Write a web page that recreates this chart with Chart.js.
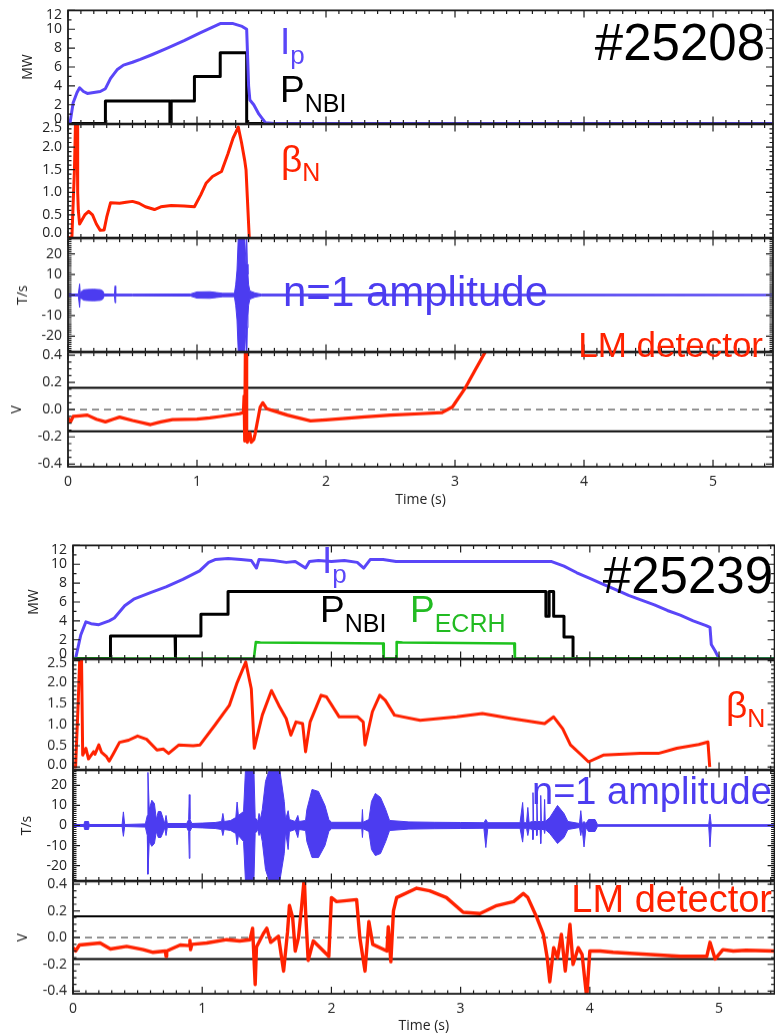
<!DOCTYPE html>
<html><head><meta charset="utf-8">
<script src="https://cdn.jsdelivr.net/npm/chart.js@4.4.1/dist/chart.umd.min.js"></script>
<style>
html,body{margin:0;padding:0;background:#fff;overflow:hidden;width:775px;height:1034px;position:relative;}
.lbl{position:absolute;font-family:"Liberation Sans",Arial,sans-serif;line-height:1;white-space:nowrap;}
.sub{position:relative;}
</style></head><body>
<script>
// ===================== DATA =====================
const xTickLabels = [0,1,2,3,4,5];
const mwLabels = [0,2,4,6,8,10,12];
const betaLabels = [0.0,0.5,1.0,1.5,2.0,2.5];
const tsLabels = [-20,-10,0,10,20];
const vLabels = [-0.4,-0.2,0.0,0.2,0.4];
const lmLimits = [0.16,-0.16];
const lmZero = 0;

// ---- shot #25208 ----
const tA_ip = [0,0.015,0.04,0.07,0.09,0.12,0.15,0.2,0.25,0.29,0.33,0.38,0.43,0.5,0.56,0.65,0.77,0.9,1.02,1.1,1.18,1.28,1.35,1.385,1.4,1.41,1.44,1.48,1.53,1.6,5.46];
const ipA  = [0,0,2.2,3.3,3.8,3.4,3.2,3.3,3.4,3.7,4.8,5.7,6.2,6.5,6.8,7.3,8.0,8.8,9.6,10.1,10.6,10.6,10.3,10.0,4,2.5,2.0,1.0,0.1,0,0];
const tA_nbi = [0,0.29,0.29,0.79,0.79,0.80,0.80,0.98,0.98,1.18,1.18,1.385,1.385,5.46];
const nbiA   = [0,0,2.4,2.4,0,0,2.4,2.4,5.0,5.0,7.5,7.5,0,0];
const tA_beta = [0,0.03,0.05,0.06,0.07,0.075,0.08,0.09,0.1,0.13,0.16,0.19,0.22,0.25,0.28,0.3,0.33,0.4,0.45,0.5,0.55,0.6,0.67,0.72,0.8,0.9,0.98,1.03,1.07,1.12,1.19,1.24,1.28,1.32,1.345,1.37,1.38,1.39,1.405];
const betaA   = [0,0,1.5,2.8,2.8,1.0,0.6,0.3,0.35,0.5,0.58,0.5,0.3,0.16,0.17,0.45,0.77,0.76,0.78,0.8,0.76,0.68,0.62,0.68,0.71,0.7,0.68,0.95,1.2,1.35,1.46,1.85,2.2,2.44,2.1,1.7,1.5,0.9,0];
const tA_n1 = [0,0.08,0.09,0.095,0.1,0.12,0.15,0.2,0.25,0.27,0.28,0.36,0.365,0.37,0.5,0.95,1.0,1.1,1.15,1.2,1.29,1.3,1.31,1.32,1.33,1.36,1.37,1.38,1.385,1.39,1.395,1.40,1.41,1.45,1.5,5.46];
const n1A_hi = [0.4,0.5,5.4,1,1.5,2.5,2.7,2.8,2.6,2,0.5,0.4,4.4,0.4,0.4,0.5,1.5,1.6,1.2,0.8,0.8,5,12,28,28,28,28,15,28,15,10,5,2,1,0.4,0.3];
const n1A_lo = [-0.4,-0.5,-6,-1,-1.5,-2.5,-2.7,-2.8,-2.6,-2,-0.5,-0.4,-3.8,-0.4,-0.4,-0.5,-1.5,-1.6,-1.2,-0.8,-0.8,-5,-12,-28,-28,-28,-28,-15,-28,-16,-10,-5,-2,-1,-0.4,-0.3];
const tA_lm = [0,0.02,0.04,0.09,0.15,0.22,0.29,0.35,0.4,0.5,0.64,0.72,0.81,1.0,1.1,1.18,1.33,1.36,1.365,1.37,1.375,1.38,1.385,1.39,1.41,1.42,1.44,1.45,1.46,1.49,1.51,1.54,1.58,1.7,1.88,2.0,2.3,2.5,2.73,2.9,2.98,3.08,3.15,3.25];
const lmA   = [-0.06,-0.09,-0.05,-0.045,-0.04,-0.07,-0.09,-0.07,-0.055,-0.08,-0.11,-0.09,-0.073,-0.07,-0.06,-0.05,-0.03,-0.02,0.1,-0.23,0.45,0.45,-0.2,-0.24,-0.17,-0.24,-0.22,-0.18,-0.13,0.02,0.05,0.007,-0.005,-0.04,-0.083,-0.075,-0.053,-0.04,-0.03,-0.022,0.02,0.16,0.28,0.45];

// ---- shot #25239 ----
const tB_ip = [0,0.02,0.06,0.1,0.14,0.2,0.28,0.32,0.4,0.47,0.6,0.72,0.85,0.98,1.05,1.1,1.2,1.3,1.38,1.42,1.44,1.55,1.65,1.72,1.8,1.83,1.9,2.0,2.1,2.2,2.25,2.3,2.4,2.5,2.7,3.0,3.3,3.5,3.7,3.8,3.9,4.0,4.1,4.2,4.3,4.4,4.5,4.6,4.7,4.8,4.9,4.93,4.94,4.97,5.0,5.43];
const ipB   = [0,0,2.5,3.9,3.7,3.6,4.0,4.3,5.6,6.3,7.0,7.6,8.4,9.3,10.2,10.5,10.6,10.5,10.4,9.6,10.5,10.4,10.2,10.3,9.6,10.3,10.4,10.3,10.4,10.2,9.6,10.5,10.5,10.3,10.3,10.3,10.3,10.3,10.3,9.8,9.1,8.5,7.9,7.3,6.7,6.2,5.7,5.1,4.6,4.0,3.5,3.3,1.5,0.8,0,0];
const tB_nbi = [0,0.29,0.29,0.79,0.79,0.795,0.795,0.99,0.99,1.2,1.2,3.66,3.66,3.685,3.685,3.72,3.72,3.8,3.8,3.87,3.87,5.43];
const nbiB   = [0,0,2.4,2.4,0,0,2.4,2.4,4.7,4.7,7.1,7.1,4.5,4.5,7.1,7.1,4.5,4.5,2.3,2.3,0,0];
const tB_ec = [0,1.40,1.415,1.45,2.0,2.40,2.405,2.50,2.505,2.55,3.0,3.415,3.42,5.43];
const ecB   = [0,0,1.75,1.7,1.65,1.6,0,0,1.75,1.7,1.65,1.6,0,0];
const tB_beta = [0,0.02,0.04,0.055,0.065,0.075,0.1,0.12,0.16,0.17,0.2,0.22,0.26,0.28,0.31,0.36,0.43,0.5,0.57,0.65,0.7,0.74,0.82,0.93,0.983,1.097,1.21,1.267,1.337,1.38,1.403,1.465,1.536,1.593,1.65,1.686,1.726,1.777,1.8,1.835,1.92,1.962,2.06,2.204,2.246,2.26,2.317,2.374,2.417,2.488,2.687,2.97,3.168,3.395,3.65,3.72,3.79,3.85,3.935,3.99,4.104,4.39,4.53,4.673,4.843,4.914,4.928];
const betaB   = [0,0,1.5,2.8,2.8,0.28,0.44,0.19,0.36,0.3,0.52,0.35,0.24,0.14,0.3,0.58,0.63,0.73,0.65,0.4,0.42,0.32,0.52,0.5,0.52,0.98,1.45,1.96,2.47,1.84,0.44,1.22,1.8,1.45,1.14,0.75,1.06,1.02,0.36,1.06,1.69,1.65,1.18,1.18,1.06,0.52,1.3,1.69,1.57,1.22,1.1,1.18,1.26,1.14,1.02,1.18,0.9,0.52,0.28,0.12,0.28,0.32,0.32,0.44,0.53,0.59,0];
const tB_n1 = [
  0,0.085,0.09,0.12,0.125,0.38,0.39,0.40,0.56,0.575,
  0.58,0.59,0.61,0.63,0.645,0.66,0.68,0.70,0.71,0.72,
  0.73,0.88,0.895,0.90,0.905,0.92,1.0,1.1,1.15,1.16,
  1.17,1.22,1.26,1.27,1.28,1.32,1.335,1.40,1.41,1.43,
  1.44,1.45,1.465,1.49,1.52,1.60,1.635,1.645,1.665,1.675,
  1.72,1.74,1.75,1.80,1.81,1.85,1.90,1.95,1.98,2.0,
  2.235,2.24,2.245,2.29,2.31,2.34,2.38,2.42,2.45,2.6,
  2.8,3.0,3.18,3.195,3.21,3.46,3.48,3.49,3.51,3.52,
  3.53,3.555,3.56,3.565,3.585,3.59,3.595,3.615,3.62,3.625,
  3.645,3.65,3.655,3.69,3.75,3.80,3.83,3.92,3.93,3.94,
  3.955,3.97,3.99,4.04,4.06,4.92,4.93,4.94,5.43];
const n1B_hi = [
  0.5,0.5,2,2,0.5,0.5,6.8,0.5,0.8,5,
  26.5,8,12.6,11,3,7,7,3,1,5,
  1,1,3,15.4,3,1,1.2,1.5,2,6,
  2,2.5,4,11.7,5,7,28,28,4,2,
  6,3,8,22,28,28,12,3,7.4,3,
  2,5,2,2.5,8,18,17,10,3,1.6,
  1.6,8,1.6,3,12,16,14,8,2.5,1.8,
  1.6,1.5,1.4,3,1.4,1.4,11.5,1.4,1.4,9,
  1.5,2,16.4,2,2,14,2,2,15,2,
  2,13,2,4,10,6,2,1,7.4,1,
  2,1,3,3,0.4,0.4,5.7,0.4,0.4];
const n1B_lo = [
  -0.5,-0.5,-2,-2,-0.5,-0.5,-5.4,-0.5,-0.8,-5,
  -24.3,-8,-10.4,-9,-3,-6,-6,-3,-1,-5,
  -1,-1,-3,-16.4,-3,-1,-1.2,-1.5,-2,-5,
  -2,-2.5,-4,-9.6,-5,-8,-28,-28,-4,-2,
  -5,-3,-8,-22,-28,-28,-14,-3,-12,-3,
  -2,-6,-2,-2.5,-8,-16,-16,-10,-3,-1.6,
  -1.6,-6,-1.6,-3,-12,-15,-14,-8,-2.5,-1.8,
  -1.6,-1.5,-1.4,-11,-1.4,-1.4,-8.3,-1.4,-1.4,-5,
  -1.5,-2,-7,-2,-2,-5,-2,-2,-9,-2,
  -2,-4,-2,-4,-9,-6,-2,-1,-5,-1,
  -10.7,-1,-3,-3,-0.4,-0.4,-10.7,-0.4,-0.4];
const tB_lm = [
  0,0.02,0.05,0.21,0.29,0.415,0.544,0.62,0.715,0.72,
  0.725,0.83,0.9,0.905,0.91,0.92,1.035,1.19,1.29,1.37,
  1.39,1.41,1.42,1.473,1.5,1.53,1.59,1.63,1.66,1.675,
  1.7,1.72,1.745,1.77,1.79,1.8,1.82,1.86,1.98,2.0,
  2.04,2.195,2.22,2.26,2.29,2.32,2.43,2.44,2.46,2.48,
  2.505,2.66,2.76,2.89,3.02,3.15,3.28,3.41,3.485,3.52,
  3.59,3.64,3.67,3.69,3.72,3.75,3.78,3.81,3.846,3.87,
  3.91,3.94,3.976,4.0,4.08,4.18,4.44,4.70,4.905,4.93,
  4.97,5.03,5.11,5.21,5.43];
const lmB = [
  -0.075,-0.1,-0.055,-0.04,-0.085,-0.065,-0.09,-0.11,-0.1,-0.14,
  -0.1,-0.055,-0.06,-0.02,-0.09,-0.05,-0.04,-0.015,-0.025,-0.015,
  0.07,-0.35,-0.07,0.03,0.07,-0.035,0.01,-0.25,0.04,0.24,
  0.15,-0.1,0,0.24,0.45,0.2,-0.17,-0.025,-0.14,0.3,
  0.27,0.285,0,-0.25,0.12,-0.05,-0.1,0.08,-0.18,0.2,
  0.3,0.37,0.35,0.3,0.19,0.18,0.24,0.27,0.33,0.3,
  0.15,0.025,-0.15,-0.33,-0.075,-0.15,0.025,-0.25,0.1,-0.2,
  -0.075,-0.125,-0.45,-0.1,-0.1,-0.11,-0.125,-0.14,-0.14,-0.035,
  -0.16,-0.09,-0.1,-0.095,-0.1];

// ===================== STYLE / RENDER =====================
const BLUE = '#5a46f8', BLUE2 = '#4c3cf0', RED = '#ff2200', GREEN = '#1ec21e', BLACK = '#000';
const TICKFONT = {family:'Open Sans', size:14};

function pts(T, V){ return T.map((t,i)=>({x:t, y:V[i]})); }
function hline(v, xmax){ return [{x:0,y:v},{x:xmax,y:v}]; }
function ds(data, color, width, extra){
  return Object.assign({data, borderColor:color, backgroundColor:color, borderWidth:width, pointRadius:0, fill:false, tension:0, borderJoinStyle:'round'}, extra||{});
}

const framePlugin = {
  id:'frame',
  afterDatasetsDraw(chart, args, opts){
    const {ctx, chartArea:a} = chart; const xs = chart.scales.x, ys = chart.scales.y;
    ctx.save();
    ctx.strokeStyle = '#1c1c1c';
    ctx.lineWidth = 1.8;
    ctx.strokeRect(a.left, a.top, a.right-a.left, a.bottom-a.top);
    ctx.lineWidth = 1.2;
    ctx.beginPath();
    const nx = Math.floor((xs.max)/0.1 + 1e-6);
    for (let i=0;i<=nx;i++){
      const p = xs.getPixelForValue(i*0.1); const L = (i%10===0)?7:3.5;
      ctx.moveTo(p,a.bottom); ctx.lineTo(p,a.bottom-L);
      ctx.moveTo(p,a.top); ctx.lineTo(p,a.top+L);
    }
    const s = Math.ceil(ys.min/opts.minor - 1e-6), e = Math.floor(ys.max/opts.minor + 1e-6);
    for (let k=s;k<=e;k++){
      const v = k*opts.minor; const r = v/opts.major;
      const major = Math.abs(r-Math.round(r))<1e-6;
      const p = ys.getPixelForValue(v); const L = major?7:3.5;
      ctx.moveTo(a.left,p); ctx.lineTo(a.left+L,p);
      ctx.moveTo(a.right,p); ctx.lineTo(a.right-L,p);
    }
    ctx.stroke();
    ctx.restore();
  }
};

function panel(o){
  const padTop = 14, padBot = 14;
  const axisH = o.xAxis ? o.xAxis.height : 0;
  const top = o.top - padTop;
  const h = o.bottom - o.top + padTop + (o.xAxis ? axisH : padBot);
  const wrap = document.createElement('div');
  wrap.style.cssText = 'position:absolute;left:0;top:'+top+'px;width:775px;height:'+h+'px;';
  const cv = document.createElement('canvas');
  cv.width = 775; cv.height = h; cv.style.width = '775px'; cv.style.height = h+'px';
  wrap.appendChild(cv); document.body.appendChild(wrap);
  const ppu = (o.bottom - o.top)/(o.ymax - o.ymin);
  new Chart(cv.getContext('2d'), {
    type:'line',
    data:{datasets:o.datasets},
    plugins:[framePlugin],
    options:{
      responsive:false, animation:false, events:[],
      layout:{padding:{top:padTop, bottom:o.xAxis?0:padBot, left:0, right:775-o.right}},
      plugins:{legend:{display:false}, tooltip:{enabled:false}, frame:{major:o.major, minor:o.minor}},
      scales:{
        x:{type:'linear', min:0, max:o.xmax, display:!!o.xAxis,
           grid:{display:false, drawTicks:false, tickLength:0}, border:{display:false},
           afterBuildTicks: s => { s.ticks = xTickLabels.map(v=>({value:v})); },
           afterFit: s => { s.height = axisH; },
           ticks:{autoSkip:false, maxRotation:0, color:'#222', font:TICKFONT, padding:o.xAxis?o.xAxis.pad:0, callback:(v,i)=>String(xTickLabels[i])},
           title:{display:!!o.xAxis, text:'Time (s)', color:'#222', font:TICKFONT, padding:{top:0,bottom:o.xAxis?o.xAxis.tpad:0}}
        },
        y:{type:'linear', min:o.ymin, max:o.ymax,
           grid:{display:false, drawTicks:false, tickLength:0}, border:{display:false},
           afterBuildTicks: s => { s.ticks = o.labels.map((v,i)=>({value: v + ((o.nudge&&o.nudge[i])||0)/ppu})); },
           afterFit: s => { s.width = o.left; },
           ticks:{autoSkip:false, padding:6, color:'#222', font:TICKFONT, callback:(v,i)=>o.fmt(o.labels[i])},
           title:{display:!!o.title, text:o.title||'', color:'#222', font:TICKFONT, padding:{top:o.tpad||0,bottom:0}}
        }
      }
    }
  });
}
const fInt = v => String(v);
const f1 = v => v.toFixed(1);

// ---- Figure A (#25208) ----
const XA = 5.465;
panel({left:68,right:773,top:10,bottom:124,xmax:XA,ymin:0,ymax:12,labels:mwLabels,fmt:fInt,nudge:[5,0,0,0,0,0,-5],major:2,minor:1,title:'MW',tpad:19.6,
  datasets:[ds(pts(tA_ip,ipA),BLUE,3), ds(pts(tA_nbi,nbiA),BLACK,3)]});
panel({left:68,right:773,top:124,bottom:238.4,xmax:XA,ymin:0,ymax:2.5,labels:betaLabels,fmt:f1,nudge:[5,0,0,0,0,-4],major:0.5,minor:0.1,
  datasets:[ds(pts(tA_beta,betaA),RED,3)]});
panel({left:68,right:773,top:238.4,bottom:352.4,xmax:XA,ymin:-27.5,ymax:27.5,labels:tsLabels,fmt:fInt,major:10,minor:1,title:'T/s',tpad:14.6,
  datasets:[ds(pts(tA_n1,n1A_hi),BLUE2,1,{fill:'+1'}), ds(pts(tA_n1,n1A_lo),BLUE2,1)]});
panel({left:68,right:773,top:352.4,bottom:467,xmax:XA,ymin:-0.42,ymax:0.42,labels:vLabels,fmt:f1,major:0.2,minor:0.05,title:'V',tpad:9.1,
  xAxis:{height:45,pad:7,tpad:3.6},
  datasets:[ds(pts(tA_lm,lmA),RED,3.2),
            ds(hline(lmLimits[0],XA),BLACK,2), ds(hline(lmLimits[1],XA),BLACK,2),
            ds(hline(lmZero,XA),'#555',1.3,{borderDash:[7,5]})]});

// ---- Figure B (#25239) ----
const XB = 5.43;
panel({left:73,right:774.6,top:545,bottom:659,xmax:XB,ymin:0,ymax:12,labels:mwLabels,fmt:fInt,nudge:[5,0,0,0,0,0,-5],major:2,minor:1,title:'MW',tpad:25.3,
  datasets:[ds(pts(tB_ec,ecB),GREEN,2.6), ds(pts(tB_ip,ipB),BLUE,3), ds(pts(tB_nbi,nbiB),BLACK,3)]});
panel({left:73,right:774.6,top:659,bottom:769.5,xmax:XB,ymin:-0.06,ymax:2.53,labels:betaLabels,fmt:f1,nudge:[2,0,0,0,0,-2],major:0.5,minor:0.1,
  datasets:[ds(pts(tB_beta,betaB),RED,3)]});
panel({left:73,right:774.6,top:769.5,bottom:881,xmax:XB,ymin:-27.5,ymax:27.5,labels:tsLabels,fmt:fInt,major:10,minor:1,title:'T/s',tpad:19.1,
  datasets:[ds(pts(tB_n1,n1B_hi),BLUE2,1,{fill:'+1'}), ds(pts(tB_n1,n1B_lo),BLUE2,1)]});
panel({left:73,right:774.6,top:881,bottom:993.5,xmax:XB,ymin:-0.42,ymax:0.42,labels:vLabels,fmt:f1,major:0.2,minor:0.05,title:'V',tpad:14.6,
  xAxis:{height:41,pad:6.5,tpad:0.1},
  datasets:[ds(pts(tB_lm,lmB),RED,3.4),
            ds(hline(lmLimits[0],XB),BLACK,2), ds(hline(lmLimits[1],XB),BLACK,2),
            ds(hline(lmZero,XB),'#555',1.3,{borderDash:[7,5]})]});

// ---- text annotations (real HTML text) ----
function label(html, pos, baseline, fs, color){
  const d = document.createElement('div'); d.className = 'lbl';
  d.style.fontSize = fs+'px'; d.style.color = color;
  d.style.top = (baseline - 0.8465*fs)+'px';
  if (pos.left !== undefined) d.style.left = pos.left+'px'; else d.style.right = pos.right+'px';
  d.innerHTML = html; document.body.appendChild(d);
}
function sub(txt, fs, dy){ return '<span class="sub" style="font-size:'+fs+'px;top:'+dy+'px">'+txt+'</span>'; }

label('#25208', {right:10}, 60, 51, '#000');
label('I'+sub('p',26,10), {left:280}, 54, 37, BLUE);
label('P'+sub('NBI',25,10), {left:280}, 102, 37, '#000');
label('β'+sub('N',25,9), {left:281}, 172, 37, RED);
label('n=1 amplitude', {left:283}, 307, 42, BLUE2);
label('LM detector', {right:12}, 357, 35, RED);

label('#25239', {right:2}, 593, 51, '#000');
label('I'+sub('p',26,10), {left:322}, 573, 37, BLUE);
label('P'+sub('NBI',25,10), {left:320}, 622, 37, '#000');
label('P'+sub('ECRH',25,10), {left:410}, 622, 37, '#22bb22');
label('β'+sub('N',25,9), {left:726}, 718, 37, RED);
label('n=1 amplitude', {left:532}, 804, 38, BLUE2);
label('LM detector', {right:3}, 912, 38, RED);
</script>
</body></html>
